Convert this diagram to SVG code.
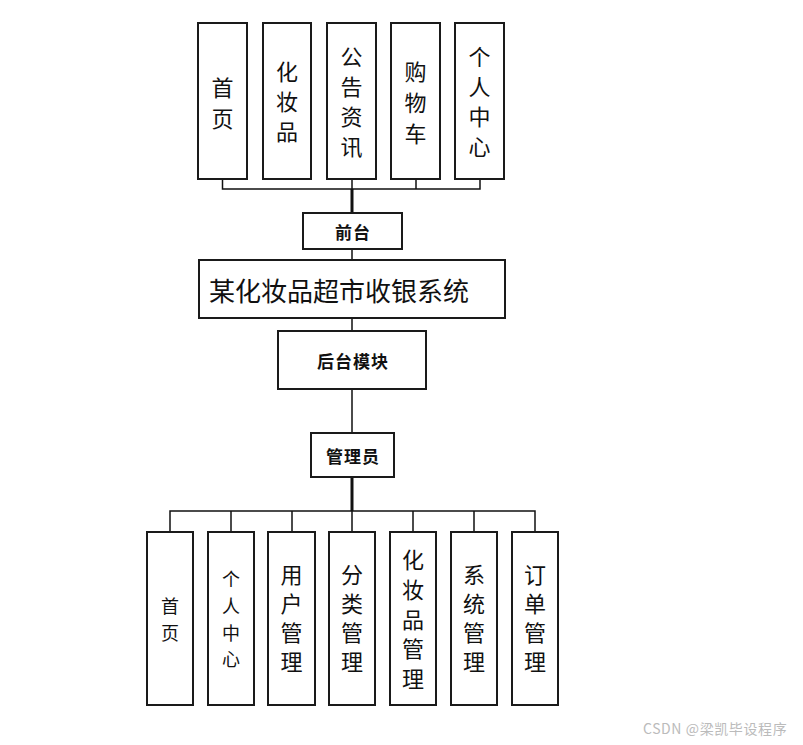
<svg xmlns="http://www.w3.org/2000/svg" width="803" height="745" viewBox="0 0 803 745">
<style>
.box{fill:#fff;stroke:#1a1a1a;stroke-width:2}
.t{font-family:"Noto Sans CJK SC","Liberation Sans",sans-serif;fill:#111;text-anchor:middle;dominant-baseline:central}
.v{font-size:22px}
.vs{font-size:18px}
.b{font-size:17px;font-weight:bold;letter-spacing:1px}
.c{fill:none;stroke:#111;stroke-width:1.5}
.k{fill:none;stroke:#111;stroke-width:3}
</style>
<rect width="803" height="745" fill="#fff"/>
<g id="connectors">
<path class="c" d="M222.5 179V189H480V179M352 179V189M416 179V189"/>
<path class="k" d="M352 189V213"/>
<path class="c" d="M352 249V260M352 318V331M352 389V433"/>
<path class="k" d="M352 477V511"/>
<path class="c" d="M170 532V511H535V532M231 511V532M292 511V532M352 511V532M413 511V532M474 511V532"/>
</g>
<g id="n-home"><rect class="box" x="198" y="23" width="49" height="156"/><text class="t v" x="222.5"><tspan x="222.5" y="86">首</tspan><tspan x="222.5" y="117">页</tspan></text></g>
<g id="n-cosmetics"><rect class="box" x="263" y="23" width="48" height="156"/><text class="t v" x="287"><tspan x="287" y="70">化</tspan><tspan x="287" y="100">妆</tspan><tspan x="287" y="130">品</tspan></text></g>
<g id="n-news"><rect class="box" x="327" y="23" width="49" height="156"/><text class="t v"><tspan x="351.5" y="55">公</tspan><tspan x="351.5" y="85">告</tspan><tspan x="351.5" y="115">资</tspan><tspan x="351.5" y="145">讯</tspan></text></g>
<g id="n-cart"><rect class="box" x="391" y="23" width="49" height="156"/><text class="t v"><tspan x="415.5" y="70">购</tspan><tspan x="415.5" y="101">物</tspan><tspan x="415.5" y="132">车</tspan></text></g>
<g id="n-user"><rect class="box" x="455" y="23" width="49" height="156"/><text class="t v"><tspan x="479.5" y="55">个</tspan><tspan x="479.5" y="85">人</tspan><tspan x="479.5" y="115">中</tspan><tspan x="479.5" y="145">心</tspan></text></g>
<g id="n-front"><rect class="box" x="303" y="213" width="99" height="36"/><text class="t b" x="353" y="231">前台</text></g>
<g id="n-system"><rect class="box" x="199" y="260" width="306" height="58"/><text class="t" x="209" y="289" style="font-size:26px;text-anchor:start">某化妆品超市收银系统</text></g>
<g id="n-back"><rect class="box" x="278" y="331" width="148" height="58"/><text class="t b" x="353" y="360">后台模块</text></g>
<g id="n-admin"><rect class="box" x="311" y="433" width="83" height="44"/><text class="t b" x="353" y="455">管理员</text></g>
<g id="m-home"><rect class="box" x="147" y="532" width="46" height="173"/><text class="t vs"><tspan x="170" y="605">首</tspan><tspan x="170" y="632">页</tspan></text></g>
<g id="m-user"><rect class="box" x="208" y="532" width="46" height="173"/><text class="t vs"><tspan x="231" y="578">个</tspan><tspan x="231" y="605">人</tspan><tspan x="231" y="632">中</tspan><tspan x="231" y="658">心</tspan></text></g>
<g id="m-usermgmt"><rect class="box" x="268" y="532" width="47" height="173"/><text class="t v"><tspan x="291.5" y="573">用</tspan><tspan x="291.5" y="602">户</tspan><tspan x="291.5" y="631">管</tspan><tspan x="291.5" y="660">理</tspan></text></g>
<g id="m-category"><rect class="box" x="329" y="532" width="46" height="173"/><text class="t v"><tspan x="352" y="573">分</tspan><tspan x="352" y="602">类</tspan><tspan x="352" y="631">管</tspan><tspan x="352" y="660">理</tspan></text></g>
<g id="m-cosmetics"><rect class="box" x="390" y="532" width="46" height="173"/><text class="t v"><tspan x="413" y="558">化</tspan><tspan x="413" y="588">妆</tspan><tspan x="413" y="618">品</tspan><tspan x="413" y="647">管</tspan><tspan x="413" y="677">理</tspan></text></g>
<g id="m-sysmgmt"><rect class="box" x="451" y="532" width="46" height="173"/><text class="t v"><tspan x="474" y="573">系</tspan><tspan x="474" y="602">统</tspan><tspan x="474" y="631">管</tspan><tspan x="474" y="660">理</tspan></text></g>
<g id="m-order"><rect class="box" x="512" y="532" width="46" height="173"/><text class="t v"><tspan x="535" y="573">订</tspan><tspan x="535" y="602">单</tspan><tspan x="535" y="631">管</tspan><tspan x="535" y="660">理</tspan></text></g>
<text x="643" y="728" style="font-family:'Noto Sans CJK SC','Liberation Sans',sans-serif;font-size:14px;letter-spacing:0.6px;fill:#bbb;dominant-baseline:central">CSDN @梁凯毕设程序</text>
</svg>
